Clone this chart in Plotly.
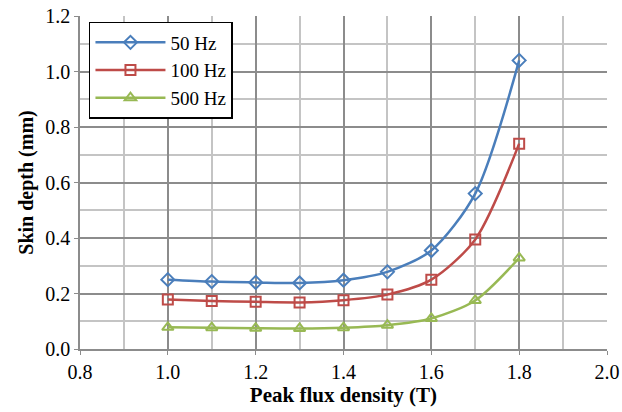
import plotly.graph_objects as go

flux = [1.0, 1.1, 1.2, 1.3, 1.4, 1.5, 1.6, 1.7, 1.8]
depth_50 = [0.250, 0.243, 0.240, 0.238, 0.248, 0.278, 0.355, 0.560, 1.040]
depth_100 = [0.178, 0.173, 0.170, 0.168, 0.176, 0.196, 0.250, 0.395, 0.740]
depth_500 = [0.078, 0.077, 0.075, 0.074, 0.077, 0.086, 0.110, 0.175, 0.328]
names = ["50 Hz", "100 Hz", "500 Hz"]

series = [
    (names[0], depth_50, "#4A7EBB", "diamond-open"),
    (names[1], depth_100, "#BE4B48", "square-open"),
    (names[2], depth_500, "#98B954", "triangle-up-open"),
]

fig = go.Figure()
for name, ys, color, sym in series:
    fig.add_trace(go.Scatter(
        x=flux, y=ys, name=name, mode="lines+markers",
        line=dict(color=color, width=2.5, shape="spline", smoothing=0.8),
        marker=dict(symbol=sym, size=10, color=color, line=dict(width=2, color=color)),
    ))

font = "Liberation Serif, Times New Roman, serif"
fig.update_layout(
    width=622, height=412,
    margin=dict(l=80, r=15, t=16, b=63, autoexpand=False),
    paper_bgcolor="white", plot_bgcolor="white",
    font=dict(family=font, size=20, color="black"),
    legend=dict(
        x=0.017, y=0.982, xanchor="left", yanchor="top",
        bordercolor="black", borderwidth=1.5, bgcolor="white",
        font=dict(size=19, family=font),
        tracegroupgap=0, itemwidth=70,
    ),
    xaxis=dict(
        range=[0.8, 2.0], dtick=0.2, tick0=0.8, tickformat=".1f",
        showgrid=True, gridcolor="#8C8C8C", gridwidth=1.5,
        minor=dict(dtick=0.1, showgrid=True, gridcolor="#C4C4C4", gridwidth=1.5),
        showline=True, linecolor="#8C8C8C", linewidth=1.5,
        ticks="outside", ticklen=4, tickcolor="#8C8C8C",
        mirror=False, zeroline=False, automargin=False,
        tickfont=dict(size=20, family=font),
        title=dict(text="<b>Peak flux density (T)</b>", font=dict(size=21, family=font), standoff=4),
    ),
    yaxis=dict(
        range=[0.0, 1.2], dtick=0.2, tickformat=".1f",
        showgrid=True, gridcolor="#8C8C8C", gridwidth=1.5,
        minor=dict(dtick=0.1, showgrid=True, gridcolor="#C4C4C4", gridwidth=1.5),
        showline=True, linecolor="#8C8C8C", linewidth=1.5,
        ticks="outside", ticklen=4, tickcolor="#8C8C8C",
        zeroline=False, automargin=False,
        tickfont=dict(size=20, family=font),
        title=dict(text="<b>Skin depth (mm)</b>", font=dict(size=20, family=font), standoff=6),
    ),
)

fig.write_html("out.html")
